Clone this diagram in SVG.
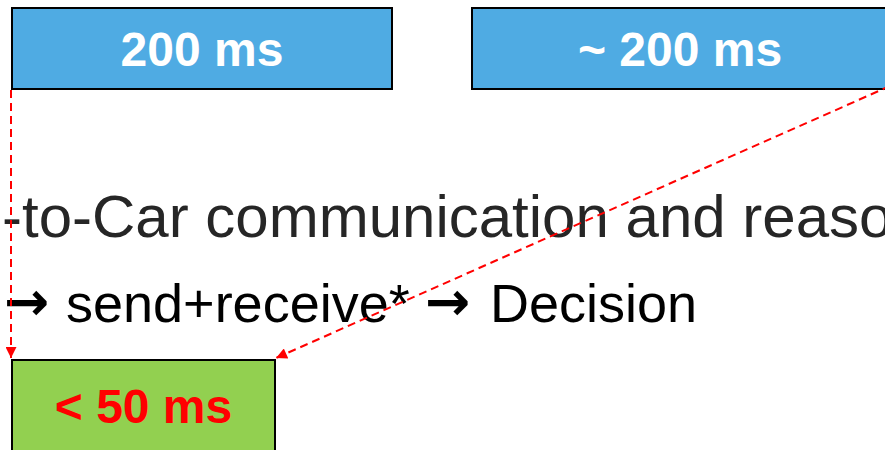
<svg xmlns="http://www.w3.org/2000/svg" width="885" height="450" viewBox="0 0 885 450">
<defs>
<style>
.box{stroke:#000;stroke-width:2}
.blue{fill:#4FABE3}
.green{fill:#92D050}
.lbl{font-family:"Liberation Sans",Arial,sans-serif;font-weight:bold;font-size:48px;text-anchor:middle}
.body{font-family:"Liberation Sans",Arial,sans-serif}
.arr{font-family:"DejaVu Sans",sans-serif;font-weight:bold}
.conn{stroke:#FF0000;stroke-width:2;stroke-dasharray:8,5;fill:none}
</style>
<marker id="ah" viewBox="0 0 10 10" refX="10" refY="5" markerWidth="13" markerHeight="11" orient="auto" markerUnits="userSpaceOnUse">
<path d="M0,0 L10,5 L0,10 z" fill="#FF0000"/>
</marker>
</defs>
<rect width="885" height="450" fill="#fff"/>
<g id="text-lines">
<text class="body" x="2" y="237" font-size="60" fill="#262626">-to-Car communication and reason</text>
<text class="body" y="322" font-size="54" fill="#000"><tspan class="arr" x="4" dy="-2">→</tspan><tspan x="51" dy="2"> send+receive* </tspan><tspan class="arr" x="425" dy="-2">→</tspan><tspan x="475" dy="2"> Decision</tspan></text>
</g>
<g id="node-200ms">
<rect class="box blue" x="12" y="8" width="380" height="81"/>
<text class="lbl" x="202" y="66" fill="#fff">200 ms</text>
</g>
<g id="node-approx200ms">
<rect class="box blue" x="472" y="8" width="418" height="81"/>
<text class="lbl" x="680" y="66" fill="#fff">~ 200 ms</text>
</g>
<g id="node-50ms">
<rect class="box green" x="12" y="360" width="263" height="95"/>
<text class="lbl" x="143.5" y="423" fill="#FF0000">&lt; 50 ms</text>
</g>
<g id="connectors">
<path class="conn" d="M11,90 L11,358" marker-end="url(#ah)"/>
<path class="conn" d="M890,86 L276,358" marker-end="url(#ah)"/>
</g>
</svg>
